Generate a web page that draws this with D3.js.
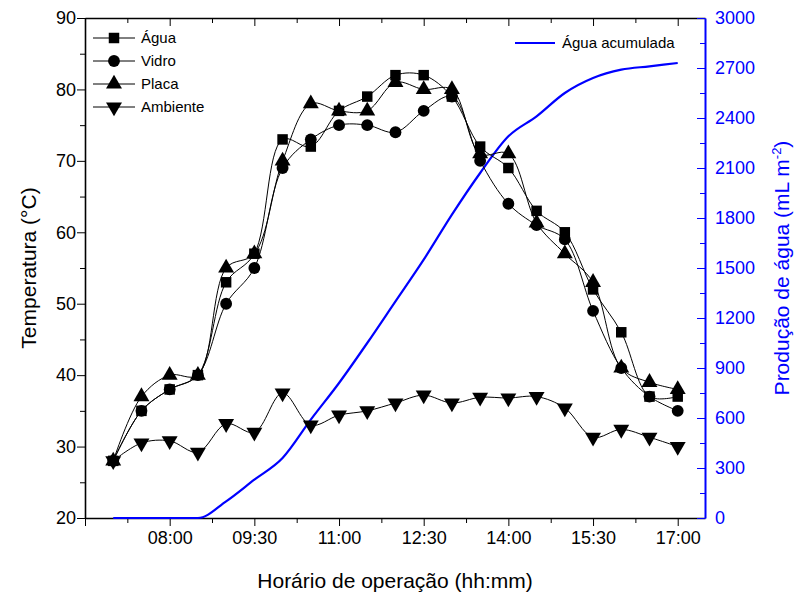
<!DOCTYPE html>
<html>
<head>
<meta charset="utf-8">
<script src="https://cdn.jsdelivr.net/npm/d3@7"></script>
<style>
  body { margin: 0; background: #fff; }
  text { font-family: "Liberation Sans", Arial, sans-serif; }
</style>
</head>
<body>
<div id="chart"></div>
<script>
// minutes since midnight, 07:00 .. 17:00 every 30 min
var times = d3.range(420, 1021, 30);

var agua     = [28, 35, 38, 40, 53, 57, 73, 72, 77, 79, 82, 82, 79, 72, 69, 63, 60, 52, 46, 37, 37];
var vidro    = [28, 35, 38, 40, 50, 55, 69, 73, 75, 75, 74, 77, 79, 70, 64, 61, 59, 49, 41, 37, 35];
var placa    = [28, 37, 40, 40, 55, 57, 70, 78, 77, 77, 81, 80, 80, 71, 71, 61.3, 57, 53, 41, 39, 38];
var ambiente = [28, 30.5, 30.8, 29.2, 33.2, 32, 37.5, 33, 34.4, 35, 36.1, 37.2, 36.1, 36.9, 36.8, 37, 35.4, 31.3, 32.4, 31.3, 30];
var acumulada = [0, 0, 0, 0, 100, 230, 360, 590, 810, 1050, 1300, 1550, 1820, 2070, 2290, 2410, 2550, 2640, 2690, 2710, 2730];

var svgWidth = 800, svgHeight = 601;
var margin = { top: 18, right: 95, bottom: 83, left: 85 };
var width = svgWidth - margin.left - margin.right;
var height = svgHeight - margin.top - margin.bottom;

var svg = d3.select("#chart").append("svg")
  .attr("width", svgWidth).attr("height", svgHeight);
var g = svg.append("g").attr("transform", `translate(${margin.left}, ${margin.top})`);

var x = d3.scaleLinear().domain([390, 1049]).range([0, width]);
var y = d3.scaleLinear().domain([20, 90]).range([height, 0]);
var y2 = d3.scaleLinear().domain([0, 3000]).range([height, 0]);

function hhmm(m) {
  return d3.format("02d")(Math.floor(m / 60)) + ":" + d3.format("02d")(m % 60);
}

var xTicks = d3.range(390, 1046, 45);
var majorX = d3.range(480, 1021, 90);

// bottom axis
var bottomAxis = g.append("g").attr("transform", `translate(0, ${height})`)
  .call(d3.axisBottom(x).tickValues(xTicks).tickSize(5).tickSizeOuter(0)
    .tickFormat(d => majorX.indexOf(d) >= 0 ? hhmm(d) : ""));
bottomAxis.selectAll(".tick line").attr("y2", d => (majorX.indexOf(d) >= 0 || d === 390) ? 8 : 5);
// top axis (ticks inward)
var topAxis = g.append("g")
  .call(d3.axisTop(x).tickValues(xTicks).tickSizeOuter(0).tickFormat(""));
topAxis.selectAll(".tick line").attr("y2", d => majorX.indexOf(d) >= 0 ? 8 : 5);

// left axis
var leftAxis = g.append("g")
  .call(d3.axisLeft(y).tickValues(d3.range(20, 91, 5)).tickSizeOuter(0)
    .tickFormat(d => d % 10 === 0 ? d : ""));
leftAxis.selectAll(".tick line").attr("x2", d => d % 10 === 0 ? -8 : -5);

// right axis (blue)
var rightAxis = g.append("g").attr("transform", `translate(${width}, 0)`)
  .call(d3.axisRight(y2).tickValues(d3.range(0, 3001, 150)).tickSizeOuter(0)
    .tickFormat(d => d % 300 === 0 ? d : ""));
rightAxis.selectAll(".tick line").attr("x2", d => d % 300 === 0 ? -8 : -5);
rightAxis.selectAll(".tick text").attr("x", 10);
rightAxis.select(".domain").attr("stroke", "#0000ff").attr("stroke-width", 2);
rightAxis.selectAll("line").attr("stroke", "#0000ff");
rightAxis.selectAll("text").attr("fill", "#0000ff");

[bottomAxis, topAxis, leftAxis, rightAxis].forEach(function(a) {
  a.selectAll("text").style("font-size", "18px");
});
[bottomAxis, topAxis, leftAxis].forEach(function(a) {
  a.select(".domain").attr("stroke-width", 1.6);
});
bottomAxis.selectAll(".tick text").attr("dy", "1.0em");

// axis titles
g.append("text")
  .attr("transform", `translate(${width / 2}, ${height + 70})`)
  .attr("text-anchor", "middle").style("font-size", "21px")
  .text("Horário de operação (hh:mm)");
g.append("text")
  .attr("transform", `translate(-49, ${height / 2}) rotate(-90)`)
  .attr("text-anchor", "middle").style("font-size", "21px")
  .text("Temperatura (°C)");
var rt = g.append("text")
  .attr("transform", `translate(${width + 84}, ${height / 2}) rotate(-90)`)
  .attr("text-anchor", "middle").attr("fill", "#0000ff").style("font-size", "21px");
rt.append("tspan").text("Produção de água (mL m");
rt.append("tspan").attr("dy", -8).style("font-size", "13px").text("-2");
rt.append("tspan").attr("dy", 8).text(")");

// blue cumulative line
g.append("path").datum(acumulada)
  .attr("fill", "none").attr("stroke", "#0000ff").attr("stroke-width", 2.2)
  .attr("d", d3.line().x((d, i) => x(times[i])).y(d => y2(d)).curve(d3.curveMonotoneX));

var symSize = 110;
var series = [
  { name: "Água", data: agua, sym: d3.symbolSquare, rot: 0 },
  { name: "Vidro", data: vidro, sym: d3.symbolCircle, rot: 0 },
  { name: "Placa", data: placa, sym: d3.symbolTriangle, rot: 0 },
  { name: "Ambiente", data: ambiente, sym: d3.symbolTriangle, rot: 180 }
];

var line = d3.line().x((d, i) => x(times[i])).y(d => y(d)).curve(d3.curveCatmullRom);

series.forEach(function(s) {
  g.append("path").datum(s.data)
    .attr("fill", "none").attr("stroke", "#000").attr("stroke-width", 1)
    .attr("d", line);
});
series.forEach(function(s) {
  g.selectAll(null).data(s.data).enter().append("path")
    .attr("d", d3.symbol().type(s.sym).size(symSize))
    .attr("transform", (d, i) => `translate(${x(times[i])}, ${y(d)}) rotate(${s.rot})`)
    .attr("fill", "#000");
});

// legend
var legend = g.append("g").attr("transform", "translate(8, 20)");
series.forEach(function(s, i) {
  var row = legend.append("g").attr("transform", `translate(0, ${i * 23})`);
  row.append("line").attr("x1", 0).attr("x2", 42).attr("stroke", "#000");
  row.append("path").attr("d", d3.symbol().type(s.sym).size(symSize))
    .attr("transform", `translate(21, 0) rotate(${s.rot})`);
  row.append("text").attr("x", 48).attr("dy", "0.35em").style("font-size", "15px").text(s.name);
});
var bl = g.append("g").attr("transform", `translate(${width - 190}, 25)`);
bl.append("line").attr("x1", 0).attr("x2", 40).attr("stroke", "#0000ff").attr("stroke-width", 2.2);
bl.append("text").attr("x", 47).attr("dy", "0.35em").style("font-size", "15px").text("Água acumulada");
</script>
</body>
</html>
